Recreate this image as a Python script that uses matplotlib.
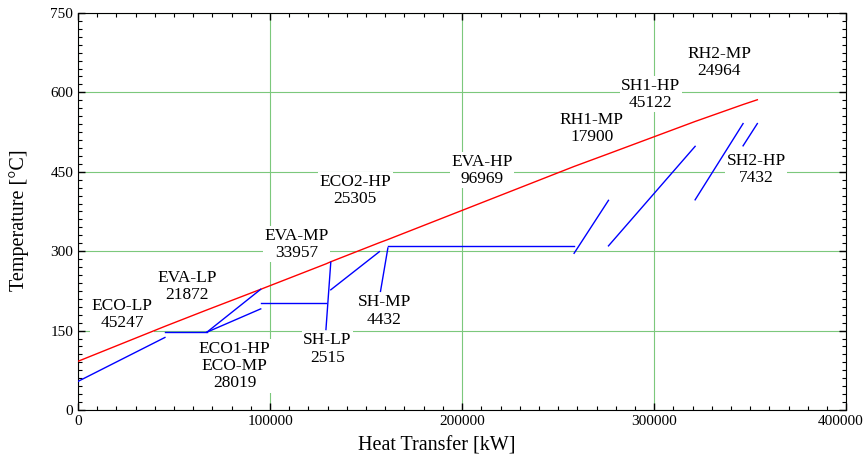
import matplotlib.pyplot as plt
import matplotlib.transforms as mtransforms
from matplotlib.ticker import MultipleLocator

# cumulative heat transfer at section boundaries [kW]
q_bounds = [0, 45247, 67119, 95138, 129095, 131610, 156915, 161347,
            258316, 276216, 321338, 346302, 353734]
# flue gas temperature at those boundaries [C]
gas_temp = [92, 158, 189, 228, 276, 280, 316, 322, 460, 484, 545, 577, 586]

# water / steam side segments: (Q start, Q end, T start, T end)
seg_names = ['ECO-LP', 'EVA-LP', 'ECO1-HP', 'ECO-MP', 'EVA-MP', 'SH-LP', 'ECO2-HP',
             'SH-MP', 'EVA-HP', 'RH1-MP', 'SH1-HP', 'RH2-MP', 'SH2-HP']
seg_q0 = [0, 45247, 67119, 67119, 95138, 129095, 131610, 157500, 161347, 258316, 276216, 321338, 346302]
seg_q1 = [45247, 67119, 95138, 95138, 129095, 131610, 156915, 161347, 258316, 276216, 321338, 346302, 353734]
seg_t0 = [54, 147, 147, 147, 202, 152, 227, 224, 309, 296, 310, 397, 499]
seg_t1 = [137, 147, 228, 191, 202, 279, 299, 306, 309, 396, 498, 541, 541]

# labels: text, x, y
labels = ['ECO-LP\n45247', 'EVA-LP\n21872', 'ECO1-HP\nECO-MP\n28019', 'EVA-MP\n33957',
          'SH-LP\n2515', 'ECO2-HP\n25305', 'SH-MP\n4432', 'EVA-HP\n96969',
          'RH1-MP\n17900', 'SH1-HP\n45122', 'RH2-MP\n24964', 'SH2-HP\n7432']
label_x = [22900, 56600, 81600, 113800, 129900, 144400, 159500, 210400,
           267500, 298200, 334000, 353200]
label_y = [180, 233, 83, 313, 115, 415, 187, 453, 532, 596, 657, 454]

x_ticks = [0, 100000, 200000, 300000, 400000]

plt.rcParams['font.family'] = ['Liberation Serif', 'DejaVu Serif']

fig = plt.figure(figsize=(8.67, 4.62), dpi=100)
ax = fig.add_axes([0.090, 0.1126, 0.886, 0.8594])

ax.plot(q_bounds, gas_temp, color='red', lw=1.0, zorder=3)
for q0, q1, t0, t1 in zip(seg_q0, seg_q1, seg_t0, seg_t1):
    ax.plot([q0, q1], [t0, t1], color='blue', lw=1.0, zorder=3)

for txt, x, y in zip(labels, label_x, label_y):
    ax.text(x, y, txt, ha='center', va='center', fontsize=12.5, linespacing=1.1,
            zorder=2, bbox=dict(facecolor='white', edgecolor='none', pad=1.0))

ax.set_xlim(0, 400000)
ax.set_ylim(0, 750)
ax.set_xticks(x_ticks)
ax.xaxis.set_minor_locator(MultipleLocator(10000))
ax.yaxis.set_major_locator(MultipleLocator(150))
ax.yaxis.set_minor_locator(MultipleLocator(15))
ax.tick_params(which='both', direction='in', top=True, right=True, labelsize=11)
ax.tick_params(which='major', length=5, width=1)
ax.tick_params(which='minor', length=3, width=0.8)
ax.grid(True, which='major', color='#7cc87c', lw=0.8, zorder=1)
ax.set_axisbelow(True)

ax.set_xlabel('Heat Transfer [kW]', fontsize=14.5)
ax.set_ylabel('Temperature [°C]', fontsize=14.5)
ax.xaxis.set_label_coords(0.467, -0.068)
ax.yaxis.set_label_coords(-0.064, 0.479)

# keep the last x tick label inside the figure
fig.canvas.draw()
last = ax.xaxis.get_major_ticks()[-1].label1
last.set_transform(last.get_transform() +
                   mtransforms.ScaledTranslation(-0.06, 0, fig.dpi_scale_trans))

fig.savefig('out.png', dpi=100)
